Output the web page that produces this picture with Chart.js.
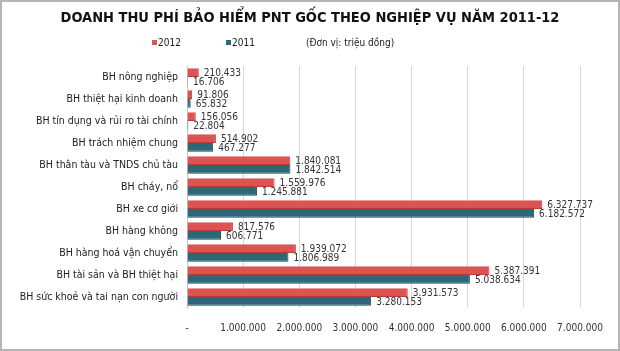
<!DOCTYPE html>
<html>
<head>
<meta charset="utf-8">
<script src="https://cdn.jsdelivr.net/npm/chart.js@4.4.0/dist/chart.umd.min.js"></script>
<style>
  body { margin: 0; background: #fff; }
  #chart { display: block; }
</style>
</head>
<body>
<canvas id="chart" width="620" height="351"></canvas>
<script>
var categories = [
  'BH nông nghiệp',
  'BH thiệt hại kinh doanh',
  'BH tín dụng và rủi ro tài chính',
  'BH trách nhiệm chung',
  'BH thân tàu và TNDS chủ tàu',
  'BH cháy, nổ',
  'BH xe cơ giới',
  'BH hàng không',
  'BH hàng hoá vận chuyển',
  'BH tài sản và BH thiệt hại',
  'BH sức khoẻ và tai nạn con người'
];
var values2012 = [210433, 91806, 156056, 514902, 1840081, 1559976, 6327737, 817576, 1939072, 5387391, 3931573];
var values2011 = [16706, 65832, 22804, 467277, 1842514, 1245881, 6182572, 606771, 1806989, 5038634, 3280153];
var xTicks = [0, 1000000, 2000000, 3000000, 4000000, 5000000, 6000000, 7000000];
var titleText = 'DOANH THU PHÍ BẢO HIỂM PNT GỐC THEO NGHIỆP VỤ NĂM 2011-12';
var unitText = '(Đơn vị: triệu đồng)';

var FONT = '"DejaVu Sans Condensed", "DejaVu Sans", sans-serif';

function fmt(v) {
  if (v === 0) return '-';
  return String(v).replace(/\B(?=(\d{3})+(?!\d))/g, '.');
}

// frame, background, title and legend row
var framePlugin = {
  id: 'frame',
  beforeDraw: function(chart) {
    var c = chart.ctx;
    c.save();
    c.fillStyle = '#fff';
    c.fillRect(0, 0, chart.width, chart.height);
    c.strokeStyle = '#b5b5b5';
    c.lineWidth = 2;
    c.strokeRect(1, 1, chart.width - 2, chart.height - 2);
    c.restore();
  },
  afterDraw: function(chart) {
    var c = chart.ctx;
    c.save();
    c.textBaseline = 'middle';
    c.font = 'bold 14.5px ' + FONT;
    c.fillStyle = '#111';
    c.textAlign = 'center';
    c.fillText(titleText, 310, 18);
    c.textAlign = 'left';
    c.font = '10px ' + FONT;
    var items = [[152, chart.data.datasets[0]], [226, chart.data.datasets[1]]];
    items.forEach(function(it) {
      c.fillStyle = it[1].backgroundColor;
      c.fillRect(it[0], 40, 5, 5);
      c.fillStyle = '#222';
      c.fillText(it[1].label, it[0] + 6, 43);
    });
    c.fillText(unitText, 306, 43);
    c.restore();
  }
};

// value labels at bar ends
var valueLabels = {
  id: 'valueLabels',
  afterDatasetsDraw: function(chart) {
    var c = chart.ctx;
    c.save();
    c.font = '10px ' + FONT;
    c.fillStyle = '#333';
    c.textBaseline = 'middle';
    chart.data.datasets.forEach(function(ds, i) {
      chart.getDatasetMeta(i).data.forEach(function(bar, j) {
        c.fillText(fmt(ds.data[j]), bar.x + 5, bar.y + 1);
      });
    });
    c.restore();
  }
};

var ctx = document.getElementById('chart').getContext('2d');
var chart = new Chart(ctx, {
  type: 'bar',
  data: {
    labels: categories,
    datasets: [
      {
        label: '2012',
        data: values2012,
        backgroundColor: '#dc5452',
        borderColor: '#b83c3a',
        borderWidth: {top: 0, right: 1, bottom: 1, left: 0},
        categoryPercentage: 0.8,
        barPercentage: 1
      },
      {
        label: '2011',
        data: values2011,
        backgroundColor: '#2b6878',
        borderColor: '#1b4a56',
        borderWidth: {top: 0, right: 1, bottom: 1, left: 0},
        categoryPercentage: 0.8,
        barPercentage: 1
      }
    ]
  },
  plugins: [framePlugin, valueLabels],
  options: {
    indexAxis: 'y',
    responsive: false,
    animation: false,
    layout: {
      padding: { left: 12, right: 40, top: 66, bottom: 3 }
    },
    plugins: {
      title: { display: false },
      legend: { display: false },
      tooltip: { enabled: false }
    },
    scales: {
      x: {
        min: 0,
        max: 7000000,
        afterBuildTicks: function(axis) {
          axis.ticks = xTicks.map(function(v) { return { value: v }; });
        },
        grid: { color: '#d9d9d9', drawTicks: false },
        border: { display: false },
        ticks: {
          color: '#333',
          padding: 14,
          maxRotation: 0,
          autoSkip: false,
          font: { family: FONT, size: 10 },
          callback: function(v) { return fmt(v); }
        }
      },
      y: {
        grid: { display: false, drawTicks: false },
        border: { color: '#c8c8c8' },
        afterFit: function(axis) { axis.width = 175; },
        ticks: {
          color: '#222',
          padding: 9,
          font: { family: FONT, size: 10.5 }
        }
      }
    }
  }
});
</script>
</body>
</html>
